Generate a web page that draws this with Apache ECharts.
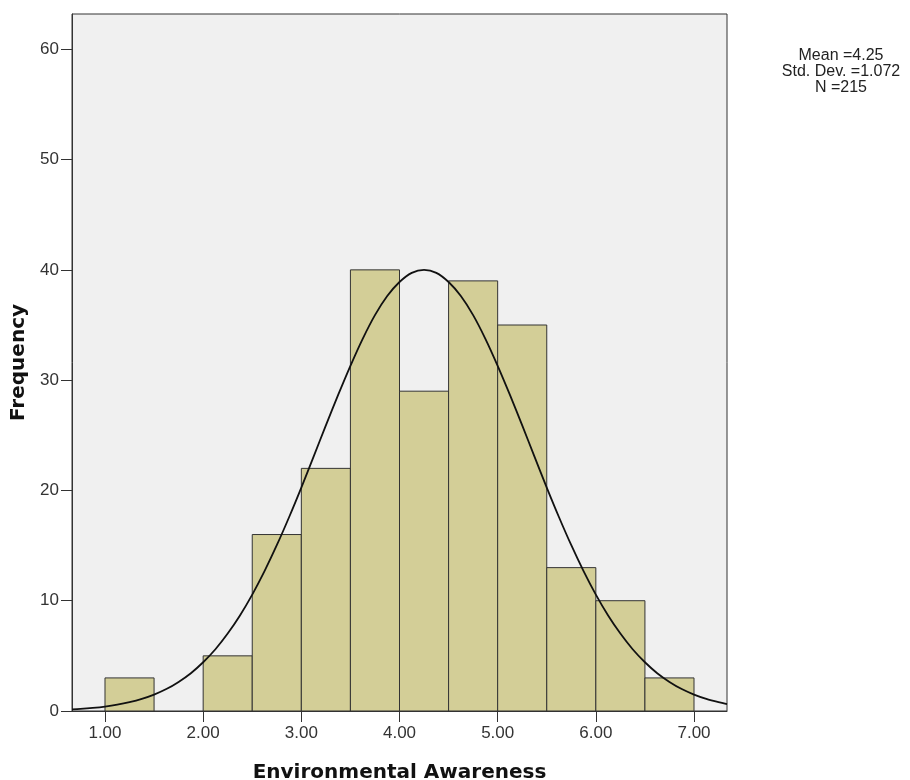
<!DOCTYPE html>
<html><head><meta charset="utf-8">
<script src="https://cdn.jsdelivr.net/npm/echarts@6/dist/echarts.min.js"></script>
<style>html,body{margin:0;padding:0;background:#fff}#c{width:910px;height:780px}</style>
</head><body><div id="c"></div>
<script>
const binStarts = [1.0, 1.5, 2.0, 2.5, 3.0, 3.5, 4.0, 4.5, 5.0, 5.5, 6.0, 6.5];
const binWidth = 0.5;
const counts = [3, 0, 5, 16, 22, 40, 29, 39, 35, 13, 10, 3];
const curveX = [0.664, 0.75, 0.875, 1.0, 1.125, 1.25, 1.375, 1.5, 1.625, 1.75, 1.875, 2.0, 2.125, 2.25, 2.375, 2.5, 2.625, 2.75, 2.875, 3.0, 3.125, 3.25, 3.375, 3.5, 3.625, 3.75, 3.875, 4.0, 4.125, 4.25,
  4.375, 4.5, 4.625, 4.75, 4.875, 5.0, 5.125, 5.25, 5.375, 5.5, 5.625, 5.75, 5.875, 6.0, 6.125, 6.25, 6.375, 6.5, 6.625, 6.75, 6.875, 7.0, 7.125, 7.25, 7.336];
const curveY = [0.15, 0.19, 0.28, 0.40, 0.57, 0.80, 1.10, 1.49, 1.99, 2.64, 3.43, 4.42, 5.60, 7.02, 8.66, 10.55, 12.68, 15.03, 17.57, 20.26, 23.07, 25.9, 28.66, 31.3, 33.75, 35.9, 37.63, 38.9, 39.73, 40.0,
  39.73, 38.9, 37.63, 35.9, 33.75, 31.3, 28.66, 25.9, 23.07, 20.26, 17.57, 15.03, 12.68, 10.55, 8.66, 7.02, 5.60, 4.42, 3.43, 2.64, 1.99, 1.49, 1.10, 0.80, 0.63];
const xTicks = [1, 2, 3, 4, 5, 6, 7];
const yTicks = [0, 10, 20, 30, 40, 50, 60];
const statsLines = ['Mean =4.25', 'Std. Dev. =1.072', 'N =215'];
const xTitle = 'Environmental Awareness';
const yTitle = 'Frequency';

const chart = echarts.init(document.getElementById('c'), null, {renderer: 'canvas'});
const font = '"Liberation Sans", Arial, sans-serif';
const titleFont = '"DejaVu Sans", Verdana, sans-serif';
const barData = binStarts.map((s, i) => [s, s + binWidth, counts[i]]);
const lineData = curveX.map((x, i) => [x, curveY[i]]);

chart.setOption({
  animation: false,
  textStyle: {fontFamily: font},
  grid: {left: 72, right: 183, top: 14, bottom: 69, containLabel: false, outerBoundsMode: 'none',
    show: true, backgroundColor: '#f0f0f0', borderColor: '#333', borderWidth: 1},
  graphic: [{
    type: 'text', x: 841, y: 48,
    style: {text: statsLines.join('\n'), font: '16px ' + font, fill: '#222', align: 'center', verticalAlign: 'top', lineHeight: 16}
  }],
  xAxis: {
    type: 'value', min: 0.664, max: 7.336,
    name: xTitle, nameLocation: 'middle', nameGap: 52,
    nameTextStyle: {fontSize: 20, fontWeight: 'bold', color: '#111', fontFamily: titleFont},
    axisLine: {show: true, onZero: false, lineStyle: {color: '#333', width: 1}},
    axisTick: {show: true, length: 11, customValues: xTicks, lineStyle: {color: '#333'}},
    axisLabel: {customValues: xTicks, formatter: v => v.toFixed(2), fontSize: 17, color: '#333', margin: 14, fontFamily: font},
    splitLine: {show: false}
  },
  yAxis: {
    type: 'value', min: 0, max: 63.2,
    name: yTitle, nameLocation: 'middle', nameGap: 36, nameRotate: 90,
    nameTextStyle: {fontSize: 20, fontWeight: 'bold', color: '#111', fontFamily: titleFont},
    axisLine: {show: true, onZero: false, lineStyle: {color: '#333', width: 1}},
    axisTick: {show: true, length: 11, customValues: yTicks, lineStyle: {color: '#333'}},
    axisLabel: {customValues: yTicks, fontSize: 17, color: '#333', margin: 13, fontFamily: font},
    splitLine: {show: false}
  },
  series: [{
    type: 'custom', z: 2,
    data: barData,
    encode: {x: [0, 1], y: 2},
    renderItem: function (params, api) {
      const v = api.value(2);
      if (!v) return null;
      const p0 = api.coord([api.value(0), v]);
      const p1 = api.coord([api.value(1), 0]);
      return {
        type: 'rect',
        shape: {x: p0[0], y: p0[1], width: p1[0] - p0[0], height: p1[1] - p0[1]},
        style: {fill: '#d3ce97', stroke: '#333', lineWidth: 1}
      };
    }
  }, {
    type: 'line', z: 3, data: lineData, smooth: 0.3, showSymbol: false, symbol: 'none',
    lineStyle: {color: '#111', width: 1.8}
  }]
});
</script></body></html>
